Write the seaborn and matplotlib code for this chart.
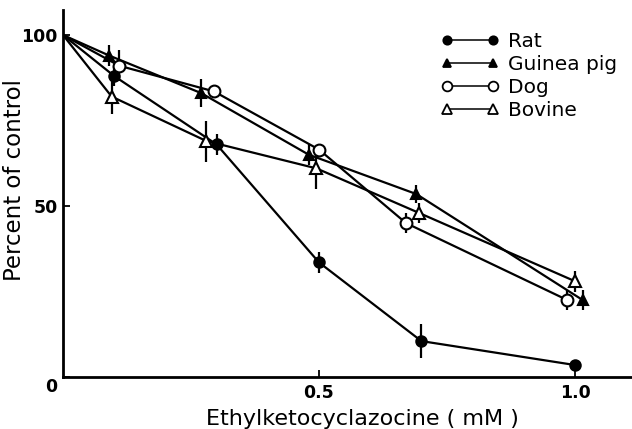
import matplotlib
matplotlib.use("Agg")
import matplotlib.pyplot as plt
import matplotlib.transforms as mtransforms
import seaborn as sns
import pandas as pd
from matplotlib.lines import Line2D

sns.set_theme(style="ticks")
plt.rcParams['font.family'] = ['DejaVu Sans']
plt.rcParams.update({"text.color": "black", "axes.labelcolor": "black",
                     "xtick.color": "black", "ytick.color": "black",
                     "axes.edgecolor": "black"})

# Data
rat_x = [0, 0.10, 0.30, 0.50, 0.70, 1.00]
rat_y = [100, 88, 68, 33.5, 10.5, 3.5]
rat_err = [0, 3, 3, 3, 5, 1.5]

gp_x = [0, 0.09, 0.27, 0.48, 0.69, 1.015]
gp_y = [100, 94, 83, 65, 53.5, 22.5]
gp_err = [0, 3, 4, 3, 2.5, 3]

dog_x = [0, 0.11, 0.295, 0.50, 0.67, 0.985]
dog_y = [100, 91, 83.5, 66.5, 45, 22.5]
dog_err = [0, 4.5, 0, 0, 3, 3]

bov_x = [0, 0.095, 0.28, 0.495, 0.695, 1.00]
bov_y = [100, 82, 69, 61, 48, 28]
bov_err = [0, 5, 6, 6, 3, 3]

species = ["Rat", "Guinea pig", "Dog", "Bovine"]
xs = [rat_x, gp_x, dog_x, bov_x]
ys = [rat_y, gp_y, dog_y, bov_y]
errs = [rat_err, gp_err, dog_err, bov_err]

x_ticks = [0.5, 1.0]
x_ticklabels = ["0.5", "1.0"]
y_ticks = [0, 50, 100]
y_ticklabels = ["0", "50", "100"]

rows = []
for sp, x, y, e in zip(species, xs, ys, errs):
    for xi, yi, ei in zip(x, y, e):
        rows.append({"species": sp, "x": xi, "y": yi, "err": ei})
df = pd.DataFrame(rows)

fig = plt.figure(figsize=(6.32, 4.29), dpi=100)
ax = fig.add_axes([63/632, 52/429, (632-63)/632, (377-10)/429])

styles = {
    "Rat": dict(marker="o", mfc="black", ms=7.5),
    "Guinea pig": dict(marker="^", mfc="black", ms=7.5),
    "Dog": dict(marker="o", mfc="white", ms=8.5),
    "Bovine": dict(marker="^", mfc="white", ms=8.5),
}

for sp in species:
    d = df[df.species == sp]
    ax.errorbar(d.x[1:], d.y[1:], yerr=d.err[1:], fmt="none", ecolor="black",
                elinewidth=1.6, capsize=0, zorder=2)
    st = styles[sp]
    sns.lineplot(data=d, x="x", y="y", ax=ax, color="black", lw=1.6,
                 sort=False, zorder=3, legend=False)
    ax.plot(d.x[1:], d.y[1:], linestyle="none", marker=st["marker"],
            mfc=st["mfc"], mec="black", mew=1.5, ms=st["ms"], zorder=4)

handles = [Line2D([0], [0], color="black", lw=1.1, marker=styles[sp]["marker"],
                  mfc=styles[sp]["mfc"], mec="black", mew=1.3,
                  ms=styles[sp]["ms"] - 1.5) for sp in species]
leg = fig.legend(handles, species, loc="upper left",
                 bbox_to_anchor=(441/632, 1 - 32/429),
                 frameon=False, numpoints=2, handlelength=2.9, handletextpad=0.42,
                 labelspacing=0.2, fontsize=14.5, borderpad=0, borderaxespad=0)

ax.set_xlim(0, (632-63)/512)
ax.set_ylim(0, (377-10)/3.42)
ax.set_xticks(x_ticks)
ax.set_xticklabels(x_ticklabels, fontsize=12.5, fontweight="bold")
ax.set_yticks(y_ticks)
ax.set_yticklabels(y_ticklabels, fontsize=12.5, fontweight="bold")
ax.tick_params(direction="in", length=5, width=1.3, pad=4)
ax.tick_params(axis="x", pad=5)
for s in ["top", "right"]:
    ax.spines[s].set_visible(False)
for s in ["left", "bottom"]:
    ax.spines[s].set_linewidth(2)

# "0" label sits a little below the axis in the reference
zero_lbl = ax.get_yticklabels()[0]
zero_lbl.set_transform(zero_lbl.get_transform() +
                       mtransforms.ScaledTranslation(0, -8/100, fig.dpi_scale_trans))

ax.set_xlabel("Ethylketocyclazocine ( mM )", fontsize=16)
ax.set_ylabel("Percent of control", fontsize=16.5)
ax.xaxis.set_label_coords((362-63)/569, (377-409)/367)
ax.yaxis.set_label_coords((26-63)/569, (377-180)/367)

fig.savefig("out.png", dpi=100)
